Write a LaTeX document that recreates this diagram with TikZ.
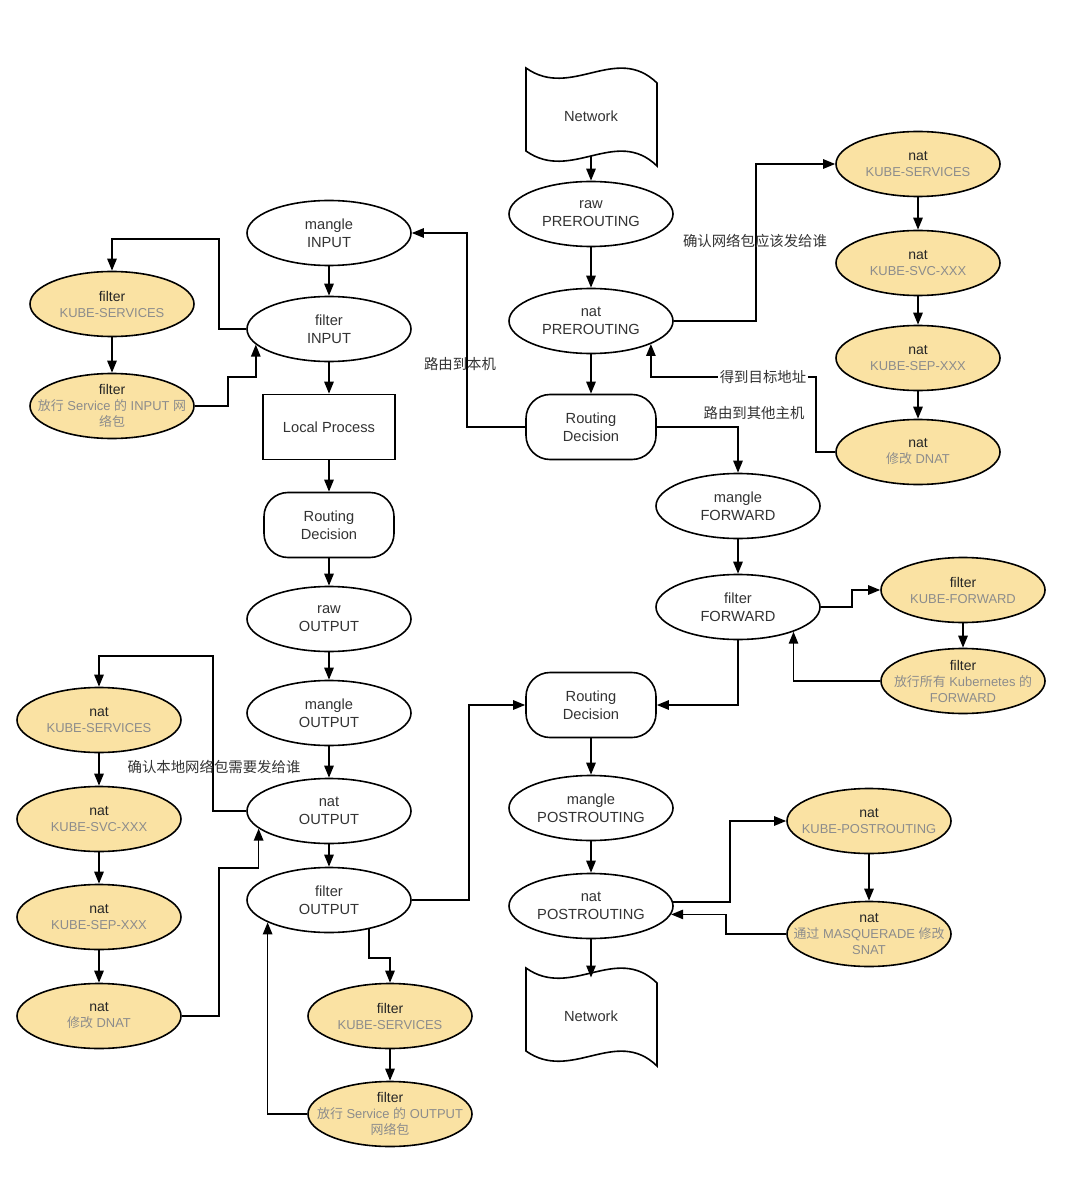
\documentclass[tikz,border=0pt]{standalone}
\usepackage{fontspec}
\setmainfont{Liberation Sans}
\newfontfamily\cjk{Noto Sans CJK SC}
\usetikzlibrary{shapes.geometric,arrows.meta}
\definecolor{kfill}{RGB}{250,226,163}
\definecolor{txt}{RGB}{51,51,51}
\definecolor{subc}{RGB}{140,140,140}
\newcommand{\ksub}[1]{{\color{subc}\fontsize{9.7}{12}\selectfont #1}}
\newcommand{\zh}[1]{{\cjk #1}}
\tikzset{
  base/.style={draw, line width=1.2pt, text=txt, align=center, inner sep=0pt,
    font=\fontsize{11}{13.5}\selectfont},
  chain/.style={base, ellipse, minimum width=123pt, minimum height=48.75pt},
  kube/.style={chain, fill=kfill, text=black!85, inner xsep=-20pt, font=\fontsize{10.5}{12}\selectfont},
  rdec/.style={base, rectangle, rounded corners=18pt, minimum width=97.5pt, minimum height=48.75pt},
  proc/.style={base, rectangle, minimum width=99pt, minimum height=48.75pt},
  netw/.style={base, draw=none, rectangle, minimum width=97.5pt, minimum height=58.5pt},
  netline/.style={line width=1.2pt},
  arr/.style={line width=1.3pt, -{Triangle[length=9pt,width=7pt]}},
  lbl/.style={font=\cjk\fontsize{10.8}{13}\selectfont, text=txt, inner sep=1pt},
}
\begin{document}
\begin{tikzpicture}[x=0.75pt,y=-0.75pt]
\useasboundingbox[fill=white] (0,0) rectangle (1080,1180);

% central chains
\node[netw] (net1) at (591,116) {Network};
\draw[netline, shift={(net1.center)}] (-65,-48) .. controls (-20,-16) and (25,-73) .. (66,-33)
  -- (66,50) .. controls (25,10) and (-20,67) .. (-65,35) -- cycle;
\node[chain] (rawpre) at (591,214) {raw\\PREROUTING};
\node[chain] (natpre) at (591,321) {nat\\PREROUTING};
\node[rdec] (rd1) at (591,427) {Routing\\Decision};
\node[chain] (mangin) at (329,233) {mangle\\INPUT};
\node[chain] (filterin) at (329,329) {filter\\INPUT};
\node[proc] (lp) at (329,427) {Local Process};
\node[rdec] (rd2) at (329,525) {Routing\\Decision};
\node[chain] (rawout) at (329,619) {raw\\OUTPUT};
\node[chain] (mangout) at (329,713) {mangle\\OUTPUT};
\node[chain] (natout) at (329,811) {nat\\OUTPUT};
\node[chain] (filterout) at (329,900) {filter\\OUTPUT};
\node[chain] (mangfwd) at (738,506) {mangle\\FORWARD};
\node[chain] (filterfwd) at (738,607) {filter\\FORWARD};
\node[rdec] (rd3) at (591,705) {Routing\\Decision};
\node[chain] (mangpost) at (591,808) {mangle\\POSTROUTING};
\node[chain] (natpost) at (591,906) {nat\\POSTROUTING};
\node[netw] (net2) at (591,1016) {Network};
\draw[netline, shift={(net2.center)}] (-65,-48) .. controls (-20,-16) and (25,-73) .. (66,-33)
  -- (66,50) .. controls (25,10) and (-20,67) .. (-65,35) -- cycle;

% kube nodes
\node[kube] (iks) at (112,304) {filter\\\ksub{KUBE-SERVICES}};
\node[kube] (iallow) at (112,406) {filter\\\ksub{\zh{放行} Service \zh{的} INPUT \zh{网}}\\\ksub{\zh{络包}}};
\node[kube] (nks) at (918,164) {nat\\\ksub{KUBE-SERVICES}};
\node[kube] (nsvc) at (918,263) {nat\\\ksub{KUBE-SVC-XXX}};
\node[kube] (nsep) at (918,358) {nat\\\ksub{KUBE-SEP-XXX}};
\node[kube] (ndnat) at (918,452) {nat\\\ksub{\zh{修改} DNAT}};
\node[kube] (kfwd) at (963,590) {filter\\\ksub{KUBE-FORWARD}};
\node[kube] (allfwd) at (963,681) {filter\\\ksub{\zh{放行所有} Kubernetes \zh{的}}\\\ksub{FORWARD}};
\node[kube] (lks) at (99,720) {nat\\\ksub{KUBE-SERVICES}};
\node[kube] (lsvc) at (99,819) {nat\\\ksub{KUBE-SVC-XXX}};
\node[kube] (lsep) at (99,917) {nat\\\ksub{KUBE-SEP-XXX}};
\node[kube] (ldnat) at (99,1016) {nat\\\ksub{\zh{修改} DNAT}};
\node[kube] (oks) at (390,1016) {filter\\\ksub{KUBE-SERVICES}};
\node[kube] (oallow) at (390,1114) {filter\\\ksub{\zh{放行} Service \zh{的} OUTPUT}\\\ksub{\zh{网络包}}};
\node[kube] (kpost) at (869,821) {nat\\\ksub{KUBE-POSTROUTING}};
\node[kube] (masq) at (869,934) {nat\\\ksub{\zh{通过} MASQUERADE \zh{修改}}\\\ksub{SNAT}};

% vertical flows
\draw[arr] (net1.south) -- (rawpre.north);
\draw[arr] (rawpre) -- (natpre);
\draw[arr] (natpre) -- (rd1);
\draw[arr] (mangin) -- (filterin);
\draw[arr] (filterin) -- (lp);
\draw[arr] (lp) -- (rd2);
\draw[arr] (rd2) -- (rawout);
\draw[arr] (rawout) -- (mangout);
\draw[arr] (mangout) -- (natout);
\draw[arr] (natout) -- (filterout);
\draw[arr] (mangfwd) -- (filterfwd);
\draw[arr] (rd3) -- (mangpost);
\draw[arr] (mangpost) -- (natpost);
\draw[arr] (natpost.south) -- ([yshift=-1pt]net2.north);
\draw[arr] (iks) -- (iallow);
\draw[arr] (nks) -- (nsvc);
\draw[arr] (nsvc) -- (nsep);
\draw[arr] (nsep) -- (ndnat);
\draw[arr] (kfwd) -- (allfwd);
\draw[arr] (lks) -- (lsvc);
\draw[arr] (lsvc) -- (lsep);
\draw[arr] (lsep) -- (ldnat);
\draw[arr] (oks) -- (oallow);
\draw[arr] (kpost) -- (masq);

% elbow connectors
\draw[arr] (natpre.east) -- ++(82,0) |- (nks.west);
\draw[arr] (ndnat.west) -| ++(-19,-75) -| (natpre.-21);
\draw[arr] (rd1.west) -- ++(-58,0) |- (mangin.east);
\draw[arr] (rd1.east) -| (mangfwd.north);
\draw[arr] (filterin.west) -- ++(-27,0) -- ++(0,-90) -| (iks.north);
\draw[arr] (iallow.east) -- ++(33,0) -- ++(0,-29) -| (filterin.192);
\draw[arr] (natout.west) -- ++(-33,0) -- ++(0,-155) -| (lks.north);
\draw[arr] (ldnat.east) -- ++(37,0) -- ++(0,-148) -| (natout.194);
\draw[arr] (filterout.-36) -- ++(0,29) -| (oks.north);
\draw[arr] (oallow.west) -| (filterout.200);
\draw[arr] (filterout.east) -- ++(57,0) |- (rd3.west);
\draw[arr] (filterfwd.east) -- ++(31,0) |- (kfwd.west);
\draw[arr] (allfwd.west) -| (filterfwd.-24);
\draw[arr] (filterfwd.south) |- (rd3.east);
\draw[arr] (natpost.3) -- ++(57,0) |- (kpost.west);
\draw[arr] (masq.west) -- ++(-60,0) |- (natpost.-6);

% labels
\node[lbl] (l1) at (755,241) {确认网络包应该发给谁};
\node[lbl, fill=white] (l2) at (763,377) {得到目标地址};
\node[lbl] (l3) at (460,364) {路由到本机};
\node[lbl] (l4) at (754,413) {路由到其他主机};
\node[lbl] (l5) at (214,767) {确认本地网络包需要发给谁};
\end{tikzpicture}
\end{document}
